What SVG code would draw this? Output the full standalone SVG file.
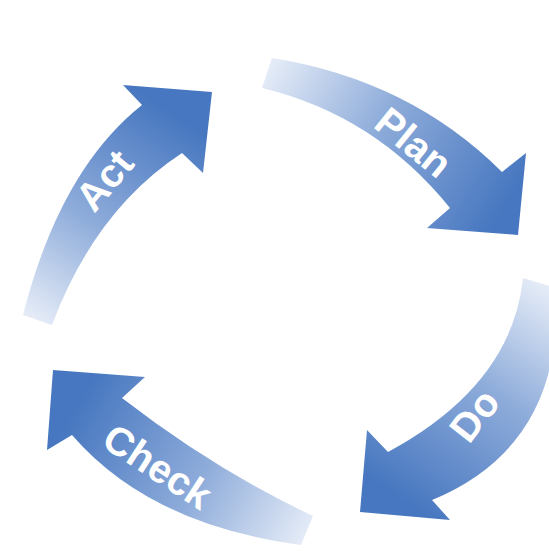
<svg xmlns="http://www.w3.org/2000/svg" width="549" height="551" viewBox="0 0 549 551">
  <defs>
    <linearGradient id="gPlan" gradientUnits="userSpaceOnUse" x1="267" y1="73" x2="500" y2="215">
      <stop offset="0" stop-color="#e4ebf7"/>
      <stop offset="0.45" stop-color="#8eacda"/>
      <stop offset="1" stop-color="#4777c0"/>
    </linearGradient>
    <linearGradient id="gDo" gradientUnits="userSpaceOnUse" x1="540" y1="285" x2="395" y2="495">
      <stop offset="0" stop-color="#e4ebf7"/>
      <stop offset="0.45" stop-color="#8eacda"/>
      <stop offset="1" stop-color="#4777c0"/>
    </linearGradient>
    <linearGradient id="gCheck" gradientUnits="userSpaceOnUse" x1="308" y1="530" x2="80" y2="400">
      <stop offset="0" stop-color="#e4ebf7"/>
      <stop offset="0.45" stop-color="#8eacda"/>
      <stop offset="1" stop-color="#4777c0"/>
    </linearGradient>
    <linearGradient id="gAct" gradientUnits="userSpaceOnUse" x1="38" y1="320" x2="175" y2="115">
      <stop offset="0" stop-color="#e4ebf7"/>
      <stop offset="0.45" stop-color="#8eacda"/>
      <stop offset="1" stop-color="#4777c0"/>
    </linearGradient>
    <filter id="soft" x="-20%" y="-20%" width="140%" height="140%">
      <feGaussianBlur stdDeviation="0.6"/>
    </filter>
  </defs>
  <style>
    .label { font-family: "Liberation Sans", Arial, sans-serif; font-weight: bold; font-size: 40px; fill: #ffffff; text-anchor: middle; }
  </style>
  <rect width="549" height="551" fill="#ffffff"/>

  <!-- four curved arrows forming the cycle -->
  <g id="plan">
    <path d="M272,58 Q410,80 502,172 L526,153 L518,235 L427,228 L450,208 Q375,115 262,88 Z" fill="url(#gPlan)" filter="url(#soft)"/>
    <text class="label" x="414" y="142" dy="0.36em" transform="rotate(39 414 142)">Plan</text>
  </g>

  <g id="do">
    <path d="M523,278 L556,288 Q565,445 432,500 L450,520 L360,512 L367,430 L388,452 Q512,385 523,278 Z" fill="url(#gDo)" filter="url(#soft)"/>
    <text class="label" x="474" y="415" dy="0.36em" transform="rotate(-52 474 415)">Do</text>
  </g>

  <g id="check">
    <path d="M313,516 L301,545 Q150,525 72,435 L47,450 L53,370 L145,377 L122,398 Q215,470 313,516 Z" fill="url(#gCheck)" filter="url(#soft)"/>
    <text class="label" x="158" y="466" dy="0.36em" transform="rotate(33 158 466)">Check</text>
  </g>

  <g id="act">
    <path d="M23,315 Q60,170 142,105 L123,85 L212,92 L203,173 L182,153 Q95,210 52,325 Z" fill="url(#gAct)" filter="url(#soft)"/>
    <text class="label" x="104" y="180" dy="0.36em" transform="rotate(-50 104 180)">Act</text>
  </g>

  <g id="connectors"/>
</svg>
